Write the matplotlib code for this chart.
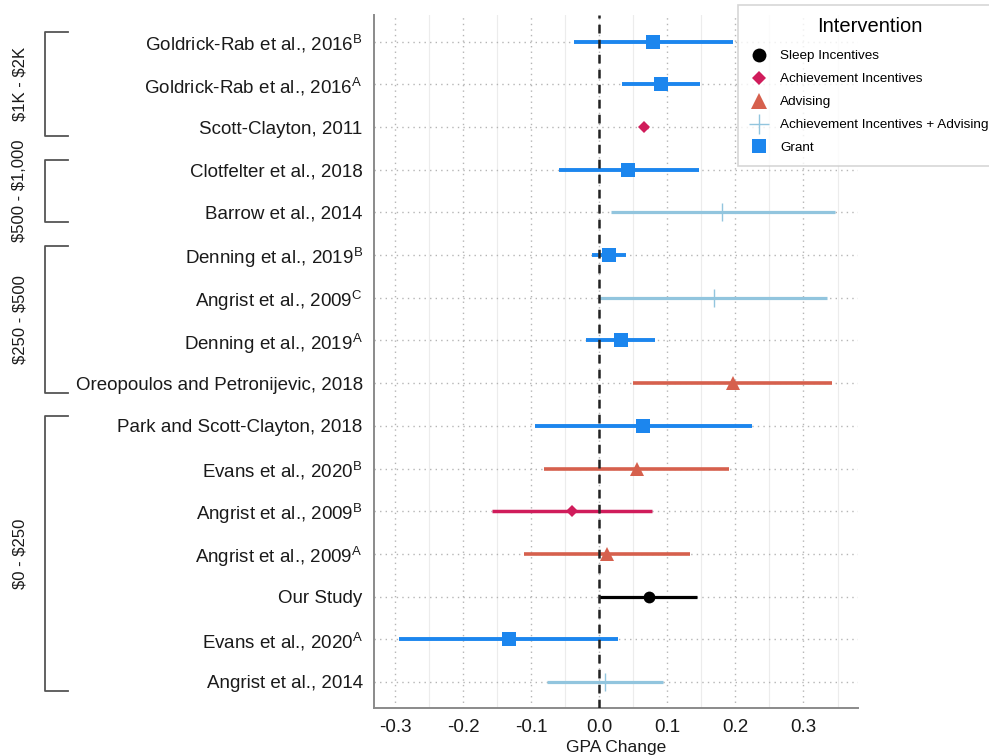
import numpy as np
import matplotlib.pyplot as plt
from matplotlib.lines import Line2D
from matplotlib import transforms

plt.rcParams['font.family'] = 'Liberation Sans'
plt.rcParams['mathtext.fontset'] = 'custom'
plt.rcParams['mathtext.rm'] = 'Liberation Sans'
plt.rcParams['mathtext.it'] = 'Liberation Sans:italic'
plt.rcParams['mathtext.bf'] = 'Liberation Sans:bold'

# Studies, top to bottom
studies = [
    r"Goldrick-Rab et al., 2016$^{\mathrm{B}}$",
    r"Goldrick-Rab et al., 2016$^{\mathrm{A}}$",
    "Scott-Clayton, 2011",
    "Clotfelter et al., 2018",
    "Barrow et al., 2014",
    r"Denning et al., 2019$^{\mathrm{B}}$",
    r"Angrist et al., 2009$^{\mathrm{C}}$",
    r"Denning et al., 2019$^{\mathrm{A}}$",
    "Oreopoulos and Petronijevic, 2018",
    "Park and Scott-Clayton, 2018",
    r"Evans et al., 2020$^{\mathrm{B}}$",
    r"Angrist et al., 2009$^{\mathrm{B}}$",
    r"Angrist et al., 2009$^{\mathrm{A}}$",
    "Our Study",
    r"Evans et al., 2020$^{\mathrm{A}}$",
    "Angrist et al., 2014",
]
intervention = [
    "Grant", "Grant", "Achievement Incentives", "Grant",
    "Achievement Incentives + Advising", "Grant",
    "Achievement Incentives + Advising", "Grant", "Advising", "Grant",
    "Advising", "Achievement Incentives", "Advising", "Sleep Incentives",
    "Grant", "Achievement Incentives + Advising",
]
est = [0.079, 0.091, 0.066, 0.043, 0.181, 0.014, 0.168, 0.032,
       0.196, 0.064, 0.055, -0.040, 0.011, 0.073, -0.132, 0.009]
lo = [-0.037, 0.033, 0.061, -0.059, 0.017, -0.010, 0.000, -0.019,
      0.050, -0.095, -0.081, -0.157, -0.110, 0.000, -0.294, -0.076]
hi = [0.196, 0.148, 0.071, 0.147, 0.347, 0.039, 0.335, 0.082,
      0.342, 0.224, 0.191, 0.078, 0.133, 0.144, 0.028, 0.094]

groups = [r"\$1K - \$2K", r"\$500 - \$1,000", r"\$250 - \$500", r"\$0 - \$250"]
group_rows = [(0, 2), (3, 4), (5, 8), (9, 15)]

legend_order = ["Sleep Incentives", "Achievement Incentives", "Advising",
                "Achievement Incentives + Advising", "Grant"]
styles = {
    "Sleep Incentives": dict(color='black', marker='o', ms=8.5, lw=2.3, mew=0),
    "Achievement Incentives": dict(color='#D01C5B', marker='D', ms=6, lw=2.5, mew=0),
    "Advising": dict(color='#D6604D', marker='^', ms=10, lw=2.6, mew=0),
    "Achievement Incentives + Advising": dict(color='#92C5DE', marker='+', ms=13, lw=2.3, mew=1.0),
    "Grant": dict(color='#1C86EE', marker='s', ms=9.5, lw=2.8, mew=0),
}
legend_ms = {"Sleep Incentives": 10, "Achievement Incentives": 7,
             "Advising": 11, "Achievement Incentives + Advising": 14,
             "Grant": 10}

fig = plt.figure(figsize=(9.89, 7.56), dpi=100)
ax = fig.add_axes([0.378, 0.0635, 0.4895, 0.917])

n = len(studies)
ys = np.arange(n)
for i in range(n):
    s = styles[intervention[i]]
    ax.plot([lo[i], hi[i]], [ys[i], ys[i]], color=s['color'], lw=s['lw'],
            solid_capstyle='butt', zorder=2)
    ax.plot(est[i], ys[i], linestyle='none', marker=s['marker'], ms=s['ms'],
            color=s['color'], mew=s['mew'], zorder=4)

ax.axvline(0, color='#222222', ls=(0, (3.5, 2.5)), lw=1.8, zorder=3)

ax.set_xlim(-0.331, 0.380)
ax.set_ylim(n - 1 + 0.61, -0.63)
ax.set_xticks(np.arange(-0.3, 0.31, 0.1))
ax.set_xticklabels(['-0.3', '-0.2', '-0.1', '0.0', '0.1', '0.2', '0.3'])
ax.set_xticks(np.arange(-0.3, 0.36, 0.05), minor=True)
ax.set_yticks(ys)
ax.set_yticklabels(studies)

ax.grid(which='minor', axis='x', color='#ececec', lw=0.8, ls='-', zorder=0)
ax.grid(which='major', axis='x', color='#b5b5b5', lw=1.0, ls=(0, (1, 3)), zorder=1)
ax.grid(which='major', axis='y', color='#b5b5b5', lw=1.0, ls=(0, (1, 3)), zorder=1)
ax.set_axisbelow(True)

for side in ['top', 'right']:
    ax.spines[side].set_visible(False)
for side in ['left', 'bottom']:
    ax.spines[side].set_color('#8a8a8a')
    ax.spines[side].set_linewidth(1.4)

ax.tick_params(axis='y', length=0, pad=8, labelsize=13.5, labelcolor='#1a1a1a')
ax.tick_params(axis='x', which='major', length=0, pad=8, labelsize=13.5, labelcolor='#1a1a1a')
ax.tick_params(axis='x', which='minor', length=0)
ax.set_xlabel("GPA Change", fontsize=12.5, labelpad=3, color='#1a1a1a')

# payment-size brackets on the left
trans = transforms.blended_transform_factory(fig.transFigure, ax.transData)
x0, x1 = 45 / 989, 68 / 989
for label, (a, b) in zip(groups, group_rows):
    top, bot = a - 0.22, b + 0.22
    ax.plot([x1, x0, x0, x1], [top, top, bot, bot], color='#555555', lw=1.3,
            transform=trans, clip_on=False)
    ax.text(20 / 989, (a + b) / 2, label, rotation=90, ha='center', va='center',
            fontsize=12, color='#1a1a1a', transform=trans)

handles = []
for k in legend_order:
    s = styles[k]
    handles.append(Line2D([0], [0], linestyle='none', marker=s['marker'],
                          ms=legend_ms[k], color=s['color'], mew=s['mew'], label=k))
leg = fig.legend(handles=handles, title="Intervention", loc='upper left',
                 bbox_to_anchor=(738 / 989, 1 - 5 / 756), fontsize=9.7,
                 title_fontsize=14.5, frameon=True, fancybox=False,
                 borderaxespad=0, handlelength=1.3, handletextpad=0.95,
                 labelspacing=0.78, borderpad=0.9)
leg.get_frame().set_edgecolor('#cccccc')
leg.get_frame().set_linewidth(1.2)
leg._legend_box.sep = 10

fig.savefig('out.png', dpi=100)
